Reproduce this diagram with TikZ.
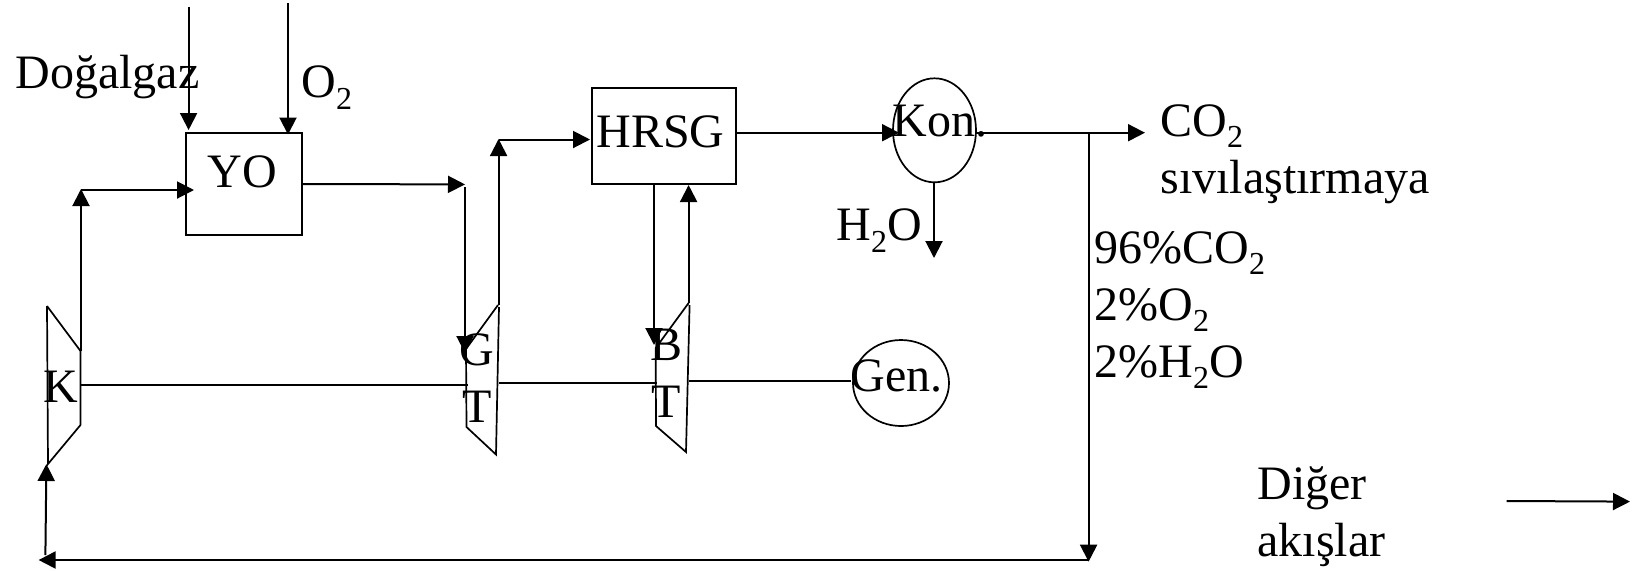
\documentclass[tikz,border=0pt]{standalone}
\usepackage{fontspec}
\setmainfont{Liberation Serif}
\usetikzlibrary{arrows.meta, positioning, calc, shapes.geometric}

\newcommand{\low}[1]{\raisebox{-0.24em}{\fontsize{16}{16}\selectfont #1}}

\begin{document}
\begin{tikzpicture}[
  x=0.5pt, y=-0.5pt,
  unit/.style={rectangle, draw, line width=0.9pt, inner sep=0pt},
  round/.style={ellipse, draw, line width=0.85pt, inner sep=0pt},
  lbl/.style={inner sep=0pt, anchor=base west, align=left, font=\fontsize{24}{28.5}\selectfont},
  arrow/.style={-{Triangle[length=8.5pt, width=8.5pt]}, line width=1pt},
  link/.style={line width=1pt},
  body/.style={line width=0.85pt}
]
\useasboundingbox (0,0) rectangle (1635,570);

% Units
\node[unit, minimum width=58pt, minimum height=51pt] (YO) at (244,184) {};
\node[unit, minimum width=72pt, minimum height=48pt] (HRSG) at (664,136) {};
\node[round, minimum width=41.5pt, minimum height=52pt] (Kon) at (934.5,130.3) {};
\node[round, minimum width=48pt, minimum height=43pt] (Gen) at (901,383) {};

% Compressor and turbines
\coordinate (K1) at (47,306);
\coordinate (K2) at (80.5,351);
\coordinate (K3) at (80.5,425);
\coordinate (K4) at (48,464);
\draw[body] (K1) -- (K2) -- (K3) -- (K4) -- (K1);

\coordinate (G1) at (498,305);
\coordinate (G2) at (466,349);
\coordinate (G3) at (466.5,427);
\coordinate (G4) at (496,454.5);
\coordinate (G5) at (499,307);
\draw[body] (G1) -- (G2) -- (G3) -- (G4) -- (G5);

\coordinate (B1) at (688.6,303);
\coordinate (B2) at (655.7,348);
\coordinate (B3) at (656,426);
\coordinate (B4) at (686,452);
\coordinate (B5) at (689.6,305);
\draw[body] (B1) -- (B2) -- (B3) -- (B4) -- (B5);

% Free ends and corners
\coordinate (gasIn) at (188.6,6.5);
\coordinate (gasTip) at (188.6,130);
\coordinate (oxIn) at (288,3);
\coordinate (oxTip) at (288,134.5);
\coordinate (kOut) at (81,351);
\coordinate (kCorner) at (81,189);
\coordinate (yoTip) at (194,190);
\coordinate (gtCorner) at (465,184.4);
\coordinate (gtStart) at (465,187);
\coordinate (gtTip) at (465,353);
\coordinate (gtOut) at (498.6,305);
\coordinate (gtTop) at (498.6,139);
\coordinate (hrsgTip) at (590,139.5);
\coordinate (btTip) at (654,345);
\coordinate (btTop) at (654,184);
\coordinate (btOut) at (688.6,303);
\coordinate (btBack) at (688.6,185);
\coordinate (konTip) at (899,132.7);
\coordinate (hrsgOut) at (736,132.7);
\coordinate (konOut) at (976,132.7);
\coordinate (split) at (1088.6,132.7);
\coordinate (co2Tip) at (1145,132.7);
\coordinate (waterIn) at (934,182);
\coordinate (waterTip) at (934,258);
\coordinate (recycle) at (1088.6,561.7);
\coordinate (backStart) at (1088.6,560);
\coordinate (backTip) at (38.6,560);
\coordinate (kStart) at (45.4,555);
\coordinate (kTip) at (46.4,464);
\coordinate (keyStart) at (1506.6,501);
\coordinate (keyTip) at (1630,501.6);

% Feeds
\draw[arrow] (gasIn) -- (gasTip);
\draw[arrow] (oxIn) -- (oxTip);

% Gas path
\draw[arrow] (kOut) -- (kCorner);
\draw[arrow] (kCorner |- yoTip) -- (yoTip);
\draw[arrow] (YO.east) -- (gtCorner);
\draw[arrow] (gtStart) -- (gtTip);
\draw[arrow] (gtOut) -- (gtTop);
\draw[arrow] (gtTop |- hrsgTip) -- (hrsgTip);
\draw[arrow] (btTop) -- (btTip);
\draw[arrow] (btOut) -- (btBack);
\draw[arrow] (hrsgOut) -- (konTip);
\draw[arrow] (waterIn) -- (waterTip);
\draw[arrow] (konOut) -- (co2Tip);

% Recycle
\draw[arrow] (split) -- (recycle);
\draw[arrow] (backStart) -- (backTip);
\draw[arrow] (kStart) -- (kTip);

% Shaft
\coordinate (s1) at (81,385);
\coordinate (s2) at (468,385);
\coordinate (s3) at (499,382.7);
\coordinate (s4) at (657,382.7);
\coordinate (s5) at (689,380.7);
\coordinate (s6) at (851,380.7);
\draw[link] (s1) -- (s2);
\draw[link] (s3) -- (s4);
\draw[link] (s5) -- (s6);

% Key
\draw[arrow] (keyStart) -- (keyTip);

% Labels
\node[lbl] (gasTxt) at (15,88) {Doğalgaz};
\node[lbl] (oxTxt) at (301,97.5) {O\low{2}};
\node[lbl] (yoTxt) at (207,187) {YO};
\node[lbl] (hrsgTxt) at (596,147) {HRSG};
\node[lbl] (konTxt) at (892,136) {Kon.};
\node[lbl] (waterTxt) at (836,240.7) {H\low{2}O};
\node[lbl] (genTxt) at (850,391.7) {Gen.};
\node[lbl] (kTxt) at (43,402) {K};
\node[lbl, align=center] (gtTxt) at (459.5,422.5) {G\\T};
\node[lbl, align=center] (btTxt) at (650,417.7) {B\\T};
\node[lbl] (co2Txt) at (1160,193.3) {CO\low{2}\\sıvılaştırmaya};
\node[lbl] (mixTxt) at (1094,377) {96\%CO\low{2}\\2\%O\low{2}\\2\%H\low{2}O};
\node[lbl] (keyTxt) at (1257,556.7) {Diğer\\akışlar};

\end{tikzpicture}
\end{document}
